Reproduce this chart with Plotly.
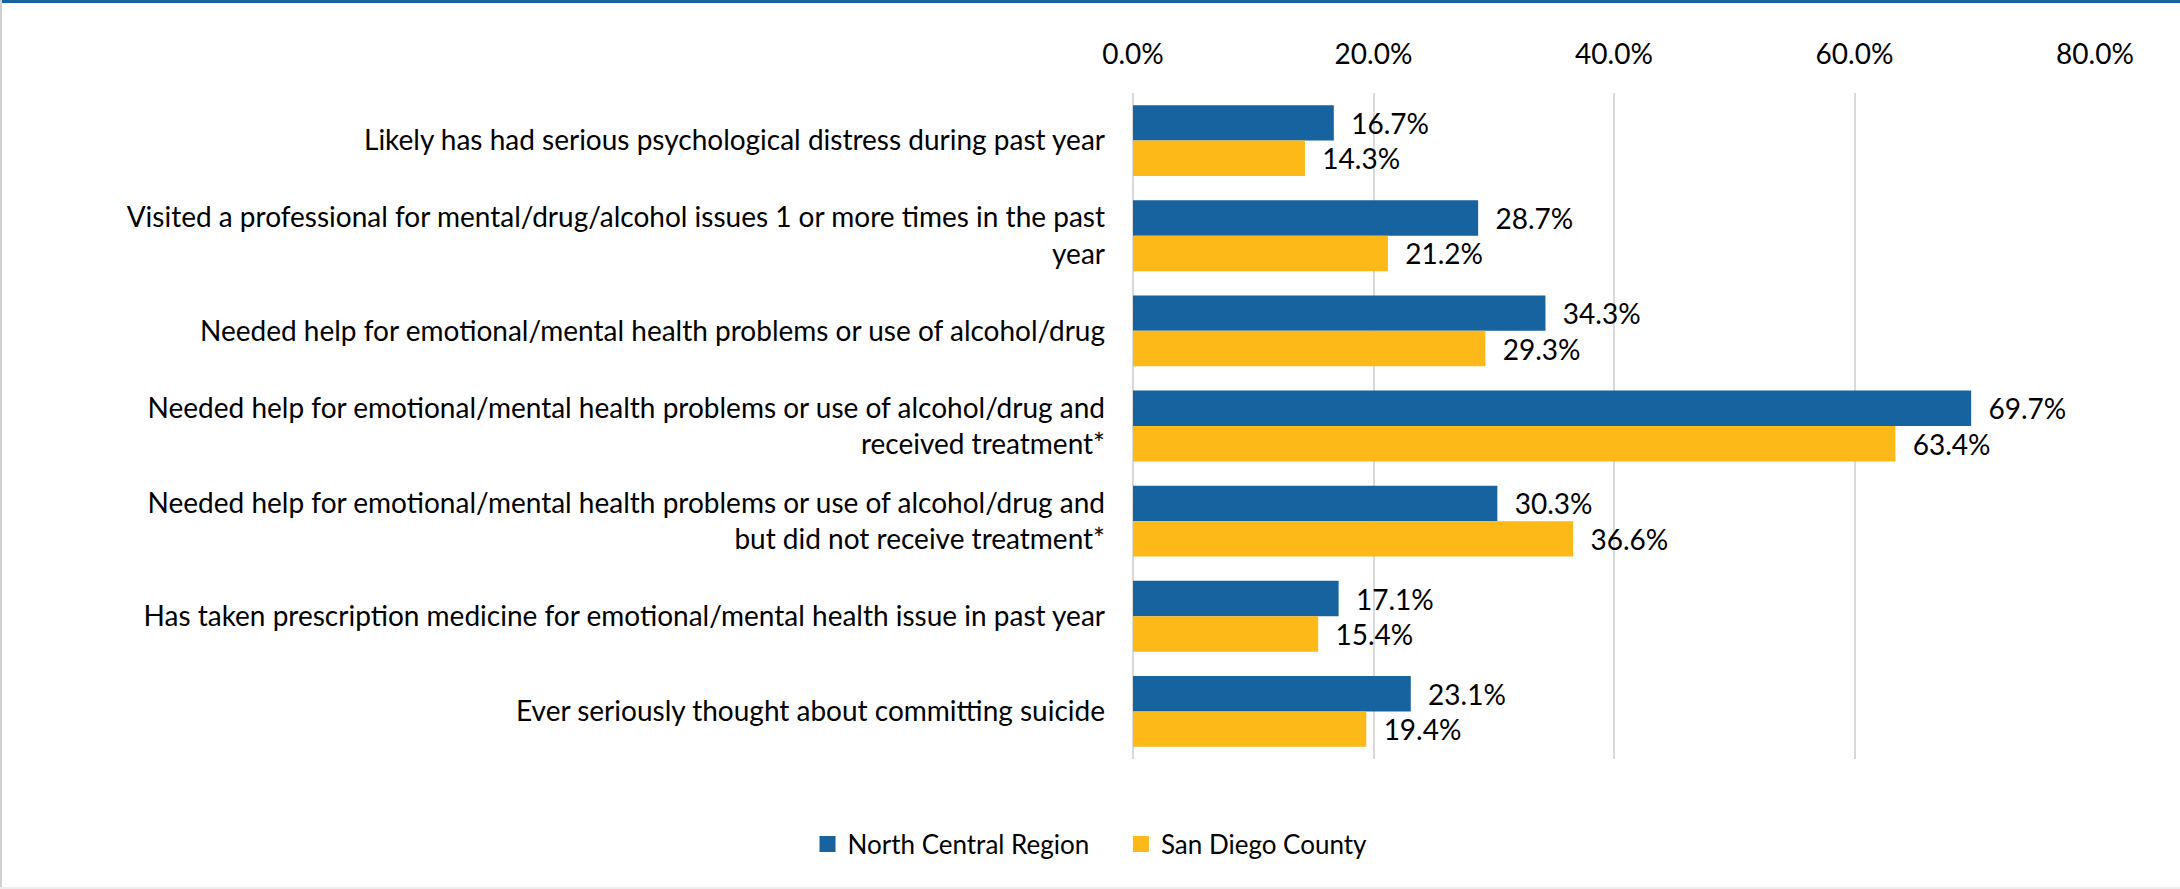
import plotly.graph_objects as go

# ── data ──────────────────────────────────────────────
categories = [
    "Likely has had serious psychological distress during past year",
    "Visited a professional for mental/drug/alcohol issues 1 or more times in the past<br>year",
    "Needed help for emotional/mental health problems or use of alcohol/drug",
    "Needed help for emotional/mental health problems or use of alcohol/drug and<br>received treatment*",
    "Needed help for emotional/mental health problems or use of alcohol/drug and<br>but did not receive treatment*",
    "Has taken prescription medicine for emotional/mental health issue in past year",
    "Ever seriously thought about committing suicide",
]
north_central = [16.7, 28.7, 34.3, 69.7, 30.3, 17.1, 23.1]
san_diego = [14.3, 21.2, 29.3, 63.4, 36.6, 15.4, 19.4]
x_ticks = [0, 20, 40, 60, 80]

# ── style ─────────────────────────────────────────────
_BLUE = "#1763A0"
_GOLD = "#FDB917"
_GRID = "#D9D9D9"
_FONT = "Lato, Calibri, sans-serif"
_FS = 28
W, H = 2180, 889
L, R, T, B = 1133, 85, 93, 130


def _bar(vals, color):
    return go.Bar(
        y=categories, x=vals, orientation="h", showlegend=False,
        marker=dict(color=color, line=dict(width=0)),
        text=[f"\u00a0\u00a0{v:.1f}%" for v in vals],
        textposition="outside", constraintext="none", cliponaxis=False,
        textfont=dict(size=_FS, color="#000000"),
    )


def _key(name, color):
    # legend-only entry so the square can be sized like the original
    return go.Scatter(
        x=[None], y=[None], mode="markers", name=name,
        marker=dict(symbol="square", size=16, color=color),
    )


fig = go.Figure([
    _bar(north_central, _BLUE),
    _bar(san_diego, _GOLD),
    _key("North Central Region\u00a0\u00a0\u00a0\u00a0", _BLUE),
    _key("San Diego County", _GOLD),
])

pw, ph = W - L - R, H - T - B
px = lambda v: (v - L) / pw
py = lambda v: (H - B - v) / ph
frame = [
    dict(type="line", xref="paper", yref="paper", x0=px(0), x1=px(W), y0=py(1.5), y1=py(1.5),
         line=dict(color="#1763A0", width=3)),
    dict(type="line", xref="paper", yref="paper", x0=px(1), x1=px(1), y0=py(0), y1=py(H),
         line=dict(color="#D0D0D0", width=2)),
    dict(type="line", xref="paper", yref="paper", x0=px(0), x1=px(W), y0=py(H - 1), y1=py(H - 1),
         line=dict(color="#EDEDED", width=2)),
]

fig.update_layout(
    width=W, height=H,
    margin=dict(l=L, r=R, t=T, b=B, pad=0),
    paper_bgcolor="white", plot_bgcolor="white",
    font=dict(family=_FONT, size=_FS, color="#000000"),
    barmode="group", bargap=0.255, bargroupgap=0,
    xaxis=dict(
        side="top", range=[0, 80], tickvals=x_ticks,
        ticktext=[f"{t:.1f}%" for t in x_ticks],
        showgrid=True, gridcolor=_GRID, gridwidth=1.5,
        zeroline=True, zerolinecolor=_GRID, zerolinewidth=1.5,
        showline=False, ticks="", ticklabelstandoff=22,
        tickfont=dict(size=_FS),
    ),
    yaxis=dict(
        autorange="reversed", showgrid=False, zeroline=False, showline=False,
        ticks="", ticklabelstandoff=27, tickfont=dict(size=_FS),
    ),
    legend=dict(
        orientation="h", x=px(W / 2), xanchor="center", y=py(844), yanchor="middle",
        font=dict(size=26), itemwidth=30, traceorder="normal",
    ),
    shapes=frame,
)

fig.write_html("out.html", config={"displayModeBar": False},
               post_script="document.body.style.margin='0';")
